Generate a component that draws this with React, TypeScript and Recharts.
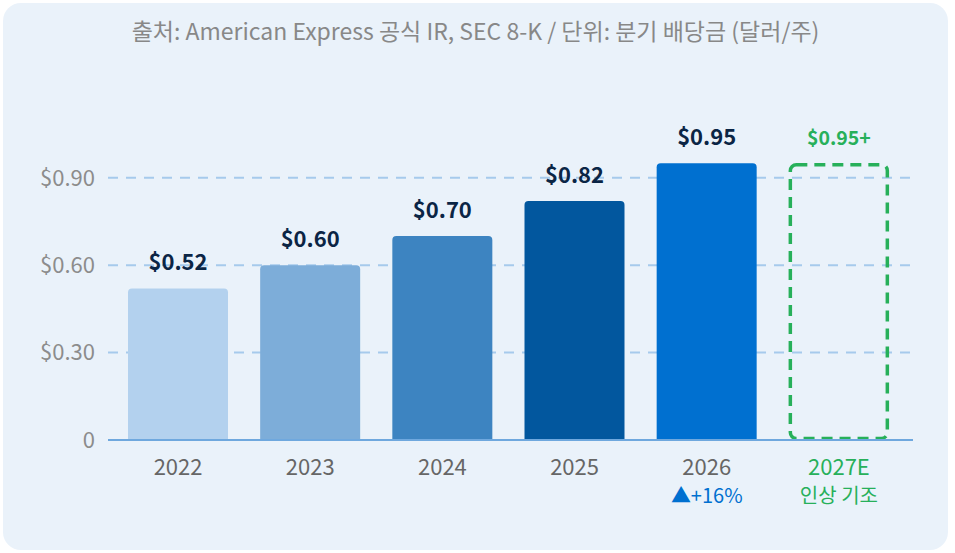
import { BarChart, Bar, XAxis, YAxis, CartesianGrid, Cell, LabelList, Rectangle } from 'recharts';

const years = ['2022', '2023', '2024', '2025', '2026', '2027E'];
const dividends = [0.52, 0.6, 0.7, 0.82, 0.95, 0.95];
const valueLabels = ['$0.52', '$0.60', '$0.70', '$0.82', '$0.95', '$0.95+'];
const subLabels = ['', '', '', '', '▲+16%', '인상 기조'];
const barColors = ['#B3D1EE', '#7DADD9', '#3D84C1', '#02579E', '#0070D0', 'none'];
const yTicks = [0, 0.3, 0.6, 0.9];

const data = years.map((year, i) => ({
  year,
  value: dividends[i],
  label: valueLabels[i],
  sub: subLabels[i],
  estimate: year.endsWith('E'),
}));

const FONT = '"Noto Sans CJK KR", "Noto Sans", sans-serif';
const GREEN = '#27B05A';

/* plain bars get rounded tops, the estimate is a dashed outline */
const BarShape = (props: any) => {
  const { x, y, width, height, payload, fill } = props;
  if (payload.estimate) {
    return (
      <rect
        x={x + 1.5}
        y={y + 1.5}
        width={width - 3}
        height={height - 3}
        rx={6}
        fill="none"
        stroke={GREEN}
        strokeWidth={3.5}
        strokeDasharray="11 7"
      />
    );
  }
  return <Rectangle x={x} y={y} width={width} height={height} fill={fill} radius={[4, 4, 0, 0]} />;
};

const ValueLabel = (props: any) => {
  const { x, y, width, index } = props;
  const row = data[index];
  return (
    <text
      x={x + width / 2}
      y={y - 18}
      textAnchor="middle"
      fontFamily={FONT}
      fontWeight={700}
      fontSize={row.estimate ? 19.5 : 22}
      fill={row.estimate ? GREEN : '#0B2545'}
    >
      {row.label}
    </text>
  );
};

const YearTick = (props: any) => {
  const { x, y, payload, index } = props;
  const row = data[index];
  return (
    <g>
      <text x={x} y={y + 27} textAnchor="middle" fontFamily={FONT} fontSize={22} fill={row.estimate ? GREEN : '#666666'}>
        {payload.value}
      </text>
      {row.sub && (
        <text
          x={x}
          y={y + 55}
          textAnchor="middle"
          fontFamily={FONT}
          fontSize={20}
          fill={row.estimate ? GREEN : '#0070D0'}
        >
          {row.sub}
        </text>
      )}
    </g>
  );
};

const App = () => {
  return (
    <div
      style={{
        position: 'absolute',
        left: 3,
        top: 3,
        width: 945,
        height: 547,
        background: '#EAF2FA',
        borderRadius: 18,
        fontFamily: FONT,
      }}
    >
      <div
        style={{
          position: 'absolute',
          top: 13,
          width: '100%',
          textAlign: 'center',
          fontSize: 23,
          lineHeight: '28px',
          color: '#888888',
        }}
      >
        출처: American Express 공식 IR, SEC 8-K / 단위: 분기 배당금 (달러/주)
      </div>
      <BarChart
        width={945}
        height={547}
        data={data}
        margin={{ top: 131, right: 35, bottom: 50, left: 0 }}
        barCategoryGap={16}
      >
        <CartesianGrid
          vertical={false}
          horizontalValues={yTicks}
          stroke="#A6CAEC"
          strokeWidth={2}
          strokeDasharray="10 8"
        />
        <XAxis
          dataKey="year"
          height={60}
          padding={{ left: 4, right: 8 }}
          axisLine={{ stroke: '#6FA8DE', strokeWidth: 2 }}
          tickLine={false}
          tick={<YearTick />}
          interval={0}
        />
        <YAxis
          width={105}
          domain={[0, 1.05]}
          ticks={yTicks}
          axisLine={false}
          tickLine={false}
          tickMargin={7}
          tick={{ fontFamily: FONT, fontSize: 22, fill: '#8C8C8C' }}
          tickFormatter={(v: number) => (v === 0 ? '0' : `$${v.toFixed(2)}`)}
        />
        <Bar dataKey="value" shape={<BarShape />} isAnimationActive={false}>
          {data.map((row, i) => (
            <Cell key={row.year} fill={barColors[i]} />
          ))}
          <LabelList dataKey="label" content={<ValueLabel />} />
        </Bar>
      </BarChart>
    </div>
  );
};

export default App;
